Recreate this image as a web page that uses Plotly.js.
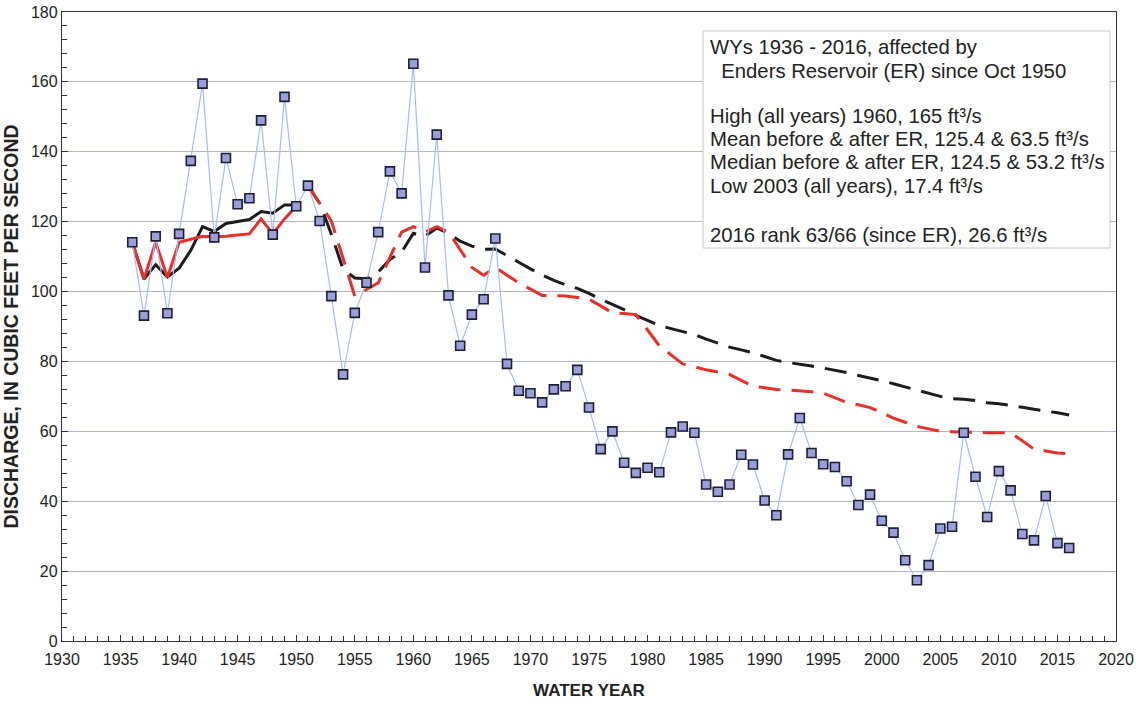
<!DOCTYPE html>
<html>
<head>
<meta charset="utf-8">
<script src="https://cdn.plot.ly/plotly-3.0.1.min.js"></script>
<style>
html,body{margin:0;padding:0;background:#fff;}
#chart{width:1136px;height:707px;}
</style>
</head>
<body>
<div id="chart"></div>
<script>
// Water years 1936-2016
var years = [];
for (var y = 1936; y <= 2016; y++) years.push(y);

// Annual mean discharge, ft3/s
var annualFlow = [
  114.1, 93.1, 115.8, 93.8, 116.5, 137.4, 159.5, 115.5, 138.2, 125.0,
  126.7, 149.0, 116.3, 155.7, 124.4, 130.3, 120.2, 98.7, 76.3, 93.9,
  102.5, 117.0, 134.4, 128.1, 165.2, 106.9, 144.9, 98.9, 84.5, 93.4,
  97.8, 115.2, 79.3, 71.6, 70.9, 68.3, 72.0, 72.9, 77.6, 66.8,
  54.9, 60.0, 51.0, 48.1, 49.6, 48.3, 59.7, 61.4, 59.6, 44.8,
  42.7, 44.8, 53.3, 50.5, 40.2, 36.0, 53.4, 63.8, 53.8, 50.6,
  49.8, 45.7, 38.9, 41.9, 34.4, 31.0, 23.1, 17.4, 21.7, 32.2,
  32.7, 59.6, 47.0, 35.5, 48.6, 43.1, 30.6, 28.8, 41.5, 28.0, 26.6
];

// Before Enders Reservoir (1936-1950): running mean and running median
var preYears = [1936,1937,1938,1939,1940,1941,1942,1943,1944,1945,1946,1947,1948,1949,1950];
var preMean = [114.1,103.6,107.7,104.2,106.7,111.8,118.6,117.2,119.5,120.0,120.6,122.9,122.4,124.8,124.8];
var preMedian = [114.1,103.6,114.1,104.0,114.1,115.0,115.8,115.7,115.8,116.2,116.5,120.8,116.5,120.8,124.4];

// After Enders Reservoir (1951-2016): running mean and running median
var postYears = [];
for (var y2 = 1951; y2 <= 2016; y2++) postYears.push(y2);
var postMean = [
  130.3, 125.3, 116.4, 106.4, 103.9, 103.7, 105.6, 109.2, 111.3, 116.7,
  115.8, 118.2, 116.7, 114.4, 113.0, 112.1, 112.2, 110.4, 108.4, 106.5,
  104.7, 103.2, 101.9, 100.9, 99.5, 97.8, 96.4, 94.8, 93.2, 91.7,
  90.3, 89.4, 88.5, 87.7, 86.4, 85.2, 84.1, 83.3, 82.5, 81.4,
  80.3, 79.7, 79.3, 78.7, 78.1, 77.5, 76.8, 76.0, 75.3, 74.5,
  73.6, 72.7, 71.6, 70.7, 70.0, 69.3, 69.2, 68.8, 68.2, 67.9,
  67.5, 66.9, 66.3, 65.9, 65.3, 64.7
];
var postMedian = [
  130.3, 125.3, 120.2, 109.5, 98.7, 100.6, 102.5, 109.8, 117.0, 118.6,
  117.0, 118.6, 117.0, 112.0, 106.9, 104.7, 106.9, 104.7, 102.5, 100.7,
  98.9, 98.8, 98.7, 98.3, 97.8, 95.9, 93.9, 93.7, 93.4, 89.0,
  84.5, 81.9, 79.3, 78.5, 77.6, 77.0, 76.3, 74.6, 72.9, 72.5,
  72.0, 71.8, 71.6, 71.3, 70.9, 69.6, 68.3, 67.6, 66.8, 65.3,
  63.8, 62.6, 61.4, 60.7, 60.0, 59.9, 59.7, 59.7, 59.6, 59.6,
  59.6, 57.3, 54.9, 54.4, 53.8, 53.6
];

var yTicks = [0,20,40,60,80,100,120,140,160,180];
var xTicks = [1930,1935,1940,1945,1950,1955,1960,1965,1970,1975,1980,1985,1990,1995,2000,2005,2010,2015,2020];

var infoLines = [
  'WYs 1936 - 2016, affected by',
  '\u00a0\u00a0Enders Reservoir (ER) since Oct 1950',
  'High (all years) 1960, 165 ft\u00b3/s',
  'Mean before &amp; after ER, 125.4 &amp; 63.5 ft\u00b3/s',
  'Median before &amp; after ER, 124.5 &amp; 53.2 ft\u00b3/s',
  'Low 2003 (all years), 17.4 ft\u00b3/s',
  '2016 rank 63/66 (since ER), 26.6 ft\u00b3/s'
];
var infoLineY = [0.9444, 0.9062, 0.8347, 0.7981, 0.7615, 0.7234, 0.6455];

var dashPat = '22px,11px';
var traces = [
  {x: preYears, y: preMean, mode: 'lines', line: {color: '#1c1c1c', width: 3}, hoverinfo: 'skip'},
  {x: preYears, y: preMedian, mode: 'lines', line: {color: '#e6302a', width: 3}, hoverinfo: 'skip'},
  {x: postYears, y: postMean, mode: 'lines', line: {color: '#1c1c1c', width: 3, dash: dashPat}, hoverinfo: 'skip'},
  {x: postYears, y: postMedian, mode: 'lines', line: {color: '#e6302a', width: 3, dash: dashPat}, hoverinfo: 'skip'},
  {x: years, y: annualFlow, mode: 'lines+markers',
   line: {color: '#a6bcf4', width: 1.2},
   marker: {symbol: 'square', size: 9, color: '#9a9fd8', line: {color: '#1e1e3c', width: 1.6}}}
];

var annotations = infoLines.map(function (t, i) {
  return {
    xref: 'paper', yref: 'paper', x: 0.6129, y: infoLineY[i], xanchor: 'left', yanchor: 'middle',
    text: t, align: 'left', showarrow: false,
    font: {size: 20.3, color: '#222', family: 'Liberation Sans, Arial, sans-serif'}
  };
});

var layout = {
  width: 1136, height: 707,
  margin: {l: 62, r: 20, t: 12, b: 66},
  paper_bgcolor: '#ffffff', plot_bgcolor: '#ffffff',
  showlegend: false,
  font: {family: 'Liberation Sans, Arial, sans-serif', color: '#222222', size: 16},
  xaxis: {
    range: [1930, 2020], tickmode: 'array', tickvals: xTicks, ticktext: xTicks.map(String),
    ticks: 'inside', ticklen: 6, tickcolor: '#333', showgrid: false, zeroline: false,
    showline: true, linecolor: '#333', linewidth: 1.2, mirror: true,
    minor: {dtick: 1, ticks: 'inside', ticklen: 5, tickcolor: '#333', showgrid: false},
    tickfont: {size: 16, color: '#222'}, ticklabelstandoff: 4,
    title: {text: '<b>WATER YEAR</b>', font: {size: 17, color: '#222'}, standoff: 16}
  },
  yaxis: {
    range: [0, 180], tickmode: 'array', tickvals: yTicks, ticktext: yTicks.map(String),
    ticks: 'inside', ticklen: 6, tickcolor: '#333', showgrid: true, gridcolor: '#b4b4c8', gridwidth: 1,
    zeroline: false, showline: true, linecolor: '#333', linewidth: 1.2, mirror: true,
    minor: {dtick: 4, ticks: 'inside', ticklen: 5, tickcolor: '#333', showgrid: false},
    tickfont: {size: 16, color: '#222'},
    title: {text: '<b>DISCHARGE, IN CUBIC FEET PER SECOND</b>', font: {size: 19.5, color: '#222'}, standoff: 8}
  },
  shapes: [{
    type: 'rect', xref: 'paper', yref: 'paper', x0: 0.6082, x1: 0.9943, y0: 0.6248, y1: 0.9698,
    line: {color: '#c8c8c8', width: 1}, fillcolor: '#ffffff', layer: 'above'
  }],
  annotations: annotations
};

Plotly.newPlot('chart', traces, layout, {displayModeBar: false, staticPlot: true});
</script>
</body>
</html>
